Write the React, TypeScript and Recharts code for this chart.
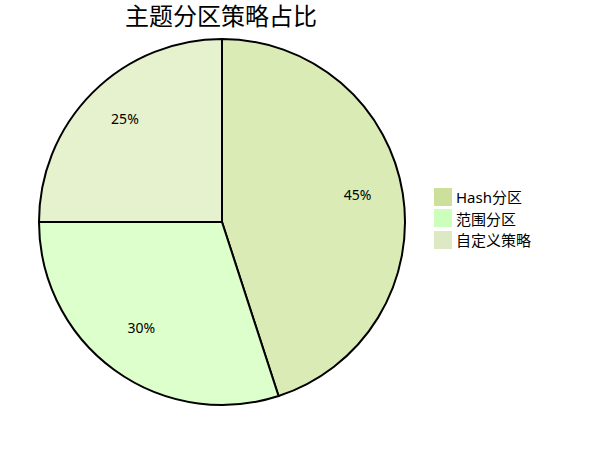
import React from "react";
import { PieChart, Pie, Cell, Legend } from "recharts";

const categories = ["Hash分区", "范围分区", "自定义策略"];
const shares = [45, 30, 25];
const sliceColors = ["#dbebb6", "#dcffcc", "#e6f1ce"];
const legendColors = ["#cce09c", "#ccffbb", "#dde9c2"];
const title = "主题分区策略占比";

const data = categories.map((name, i) => ({ name, value: shares[i] }));

const FONT = "'Segoe UI', 'Noto Sans', 'Noto Sans CJK SC', sans-serif";
const RAD = Math.PI / 180;

const renderLabel = (props: any) => {
  const { cx, cy, midAngle, outerRadius, value } = props;
  const r = outerRadius * 0.75;
  const x = cx + r * Math.cos(-midAngle * RAD);
  const y = cy + r * Math.sin(-midAngle * RAD) - 6;
  return (
    <text
      x={x}
      y={y}
      textAnchor="middle"
      dominantBaseline="central"
      fill="#000"
      fontSize={14}
      fontFamily={FONT}
    >
      {`${value}%`}
    </text>
  );
};

const renderLegend = () => (
  <div style={{ fontFamily: FONT, fontSize: 15, color: "#000" }}>
    {categories.map((c, i) => (
      <div key={c} style={{ display: "flex", alignItems: "center", height: 21.5 }}>
        <span
          style={{
            display: "inline-block",
            width: 18,
            height: 18,
            background: legendColors[i],
            marginRight: 4,
          }}
        />
        <span>{c}</span>
      </div>
    ))}
  </div>
);

export default function App() {
  return (
    <div style={{ position: "absolute", left: 0, top: 0, width: 598, height: 450, background: "#fff" }}>
      <div
        style={{
          position: "absolute",
          left: 0,
          width: 442,
          top: 0,
          textAlign: "center",
          fontFamily: FONT,
          fontSize: 24,
          color: "#000",
          lineHeight: "32px",
          zIndex: 2,
        }}
      >
        {title}
      </div>
      <PieChart width={598} height={450} margin={{ top: 0, right: 0, bottom: 0, left: 0 }}>
        <Pie
          data={data}
          dataKey="value"
          nameKey="name"
          cx={222}
          cy={222}
          outerRadius={183}
          startAngle={90}
          endAngle={-270}
          stroke="#000"
          strokeWidth={2}
          label={renderLabel}
          labelLine={false}
          isAnimationActive={false}
        >
          {data.map((d, i) => (
            <Cell key={d.name} fill={sliceColors[i]} />
          ))}
        </Pie>
        <Legend
          content={renderLegend}
          wrapperStyle={{ position: "absolute", left: 434, top: 186, width: 160 }}
        />
      </PieChart>
    </div>
  );
}
